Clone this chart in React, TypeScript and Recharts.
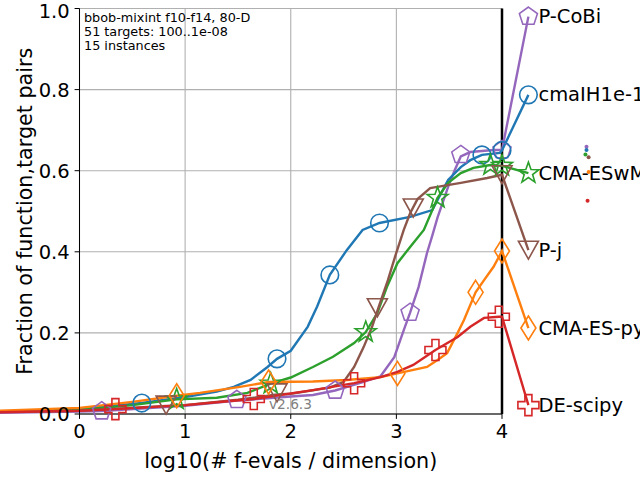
import React from 'react'
import { ComposedChart, Line, Scatter, XAxis, YAxis, CartesianGrid, ReferenceLine } from 'recharts'

type Pt = [number, number]

// curves, [log10(evals/dim), fraction]
const cmaIH1e1: Pt[] = [
  [-0.8, 0.006], [0, 0.012], [0.59, 0.027], [1.0, 0.042], [1.3, 0.055], [1.46, 0.067], [1.62, 0.084],
  [1.78, 0.116], [1.87, 0.136], [2.0, 0.156], [2.16, 0.215], [2.25, 0.265], [2.37, 0.343], [2.53, 0.404],
  [2.68, 0.454], [2.84, 0.471], [3.13, 0.486], [3.34, 0.503], [3.49, 0.577], [3.61, 0.609], [3.7, 0.626],
  [3.81, 0.639], [3.98, 0.644], [4.0, 0.65], [4.25, 0.787],
]
const cmaESwM: Pt[] = [
  [-0.8, 0.005], [0, 0.01], [0.5, 0.022], [0.92, 0.036], [1.3, 0.04], [1.59, 0.052], [1.81, 0.075],
  [2.0, 0.09], [2.21, 0.116], [2.4, 0.141], [2.6, 0.175], [2.71, 0.202], [2.82, 0.249], [2.91, 0.313],
  [3.01, 0.372], [3.13, 0.412], [3.26, 0.454], [3.39, 0.533], [3.49, 0.57], [3.61, 0.594], [3.73, 0.607],
  [3.89, 0.614], [4.0, 0.612], [4.25, 0.594],
]
const cmaESpy: Pt[] = [
  [-0.8, 0.008], [0, 0.015], [0.5, 0.03], [0.92, 0.045], [1.14, 0.052], [1.52, 0.067], [1.79, 0.079],
  [2.21, 0.08], [2.53, 0.084], [2.85, 0.091], [3.01, 0.1], [3.29, 0.116], [3.39, 0.133], [3.48, 0.15],
  [3.58, 0.2], [3.64, 0.232], [3.75, 0.3], [3.83, 0.33], [3.92, 0.363], [3.98, 0.392], [4.0, 0.402],
  [4.25, 0.212],
]
const pJ: Pt[] = [
  [-0.8, 0.005], [0, 0.008], [0.82, 0.02], [1.0, 0.022], [1.5, 0.035], [1.87, 0.048], [2.0, 0.05],
  [2.37, 0.065], [2.5, 0.079], [2.6, 0.116], [2.69, 0.165], [2.77, 0.215], [2.84, 0.27], [2.92, 0.33],
  [2.99, 0.39], [3.07, 0.454], [3.13, 0.495], [3.2, 0.53], [3.32, 0.557], [3.61, 0.57], [3.86, 0.582],
  [4.0, 0.59], [4.25, 0.404],
]
const pCoBi: Pt[] = [
  [-0.8, 0.003], [0, 0.006], [0.21, 0.007], [1.0, 0.02], [1.49, 0.033], [2.0, 0.043], [2.21, 0.047],
  [2.42, 0.058], [2.69, 0.079], [2.85, 0.093], [2.98, 0.14], [3.07, 0.207], [3.13, 0.25], [3.21, 0.313],
  [3.29, 0.397], [3.34, 0.44], [3.39, 0.485], [3.49, 0.56], [3.55, 0.6], [3.61, 0.635], [3.7, 0.646],
  [3.92, 0.651], [4.0, 0.651], [4.25, 0.98],
]
const deScipy: Pt[] = [
  [-0.8, 0.004], [0, 0.008], [0.34, 0.012], [1.0, 0.022], [1.43, 0.032], [1.65, 0.037], [2.21, 0.059],
  [2.6, 0.076], [2.85, 0.091], [3.01, 0.104], [3.16, 0.121], [3.37, 0.158], [3.58, 0.19], [3.7, 0.215],
  [3.83, 0.237], [3.97, 0.24], [4.0, 0.24], [4.25, 0.022],
]

// marker positions along each curve (last one sits next to the name)
const cmaIH1e1Marks: Pt[] = [[0.59, 0.027], [1.87, 0.136], [2.37, 0.343], [2.84, 0.471], [3.81, 0.639], [4.0, 0.65], [4.25, 0.787]]
const cmaESwMMarks: Pt[] = [[0.92, 0.036], [1.81, 0.075], [2.71, 0.202], [3.39, 0.533], [3.89, 0.614], [4.0, 0.612], [4.25, 0.594]]
const cmaESpyMarks: Pt[] = [[0.92, 0.045], [1.79, 0.079], [3.01, 0.1], [3.75, 0.3], [4.0, 0.402], [4.25, 0.212]]
const pJMarks: Pt[] = [[0.82, 0.022], [1.87, 0.052], [2.82, 0.262], [3.16, 0.508], [4.0, 0.59], [4.25, 0.404]]
const pCoBiMarks: Pt[] = [[0.21, 0.007], [1.49, 0.035], [2.42, 0.058], [3.13, 0.25], [3.61, 0.639], [4.0, 0.651], [4.25, 0.98]]
const deScipyMarks: Pt[] = [[0.34, 0.012], [1.65, 0.037], [2.6, 0.076], [3.37, 0.158], [3.97, 0.24], [4.25, 0.022]]

// tiny dots right of the names
const strayDots = [
  { x: 4.8, y: 0.659, c: '#9467bd' },
  { x: 4.8, y: 0.651, c: '#1f77b4' },
  { x: 4.79, y: 0.64, c: '#2ca02c' },
  { x: 4.82, y: 0.633, c: '#8c564b' },
  { x: 4.82, y: 0.597, c: '#ff7f0e' },
  { x: 4.81, y: 0.526, c: '#d62728' },
]

const MAJOR_X = [0, 1, 2, 3, 4]
const MINOR_X = [0, 1, 2, 3].flatMap(n => [2, 3, 4, 5, 6, 7, 8, 9].map(k => n + Math.log10(k)))
const MAJOR_Y = [0, 0.2, 0.4, 0.6, 0.8, 1.0]
const MINOR_Y = [0.05, 0.1, 0.15, 0.25, 0.3, 0.35, 0.45, 0.5, 0.55, 0.65, 0.7, 0.75, 0.85, 0.9, 0.95]

type Kind = 'circle' | 'pentagon' | 'star' | 'tri' | 'diamond' | 'plus'

const SERIES: { name: string; color: string; kind: Kind; curve: Pt[]; marks: Pt[] }[] = [
  { name: 'P-CoBi', color: '#9467bd', kind: 'pentagon', curve: pCoBi, marks: pCoBiMarks },
  { name: 'cmaIH1e-1', color: '#1f77b4', kind: 'circle', curve: cmaIH1e1, marks: cmaIH1e1Marks },
  { name: 'CMA-ESwM', color: '#2ca02c', kind: 'star', curve: cmaESwM, marks: cmaESwMMarks },
  { name: 'P-j', color: '#8c564b', kind: 'tri', curve: pJ, marks: pJMarks },
  { name: 'CMA-ES-py', color: '#ff7f0e', kind: 'diamond', curve: cmaESpy, marks: cmaESpyMarks },
  { name: 'DE-scipy', color: '#d62728', kind: 'plus', curve: deScipy, marks: deScipyMarks },
]

const toRows = (pts: Pt[]) => pts.map(([x, y]) => ({ x, y }))

function Marker({ kind, cx, cy, color }: { kind: Kind; cx: number; cy: number; color: string }) {
  const st = { fill: 'none', stroke: color, strokeWidth: 1.6 }
  if (kind === 'circle') return <circle cx={cx} cy={cy} r={8.8} {...st} />
  let pts: number[][] = []
  if (kind === 'pentagon') {
    for (let i = 0; i < 5; i++) {
      const a = -Math.PI / 2 + (i * 2 * Math.PI) / 5
      pts.push([cx + 9.5 * Math.cos(a), cy + 9.5 * Math.sin(a)])
    }
  } else if (kind === 'star') {
    for (let i = 0; i < 10; i++) {
      const a = -Math.PI / 2 + (i * Math.PI) / 5
      const r = i % 2 === 0 ? 11 : 4.4
      pts.push([cx + r * Math.cos(a), cy + r * Math.sin(a)])
    }
  } else if (kind === 'tri') {
    pts = [[cx, cy + 9], [cx - 10, cy - 9], [cx + 10, cy - 9]]
  } else if (kind === 'diamond') {
    pts = [[cx, cy - 12], [cx + 7.5, cy], [cx, cy + 12], [cx - 7.5, cy]]
  } else {
    const w = 3.5, L = 10.5
    pts = [
      [cx - w, cy - L], [cx + w, cy - L], [cx + w, cy - w], [cx + L, cy - w], [cx + L, cy + w], [cx + w, cy + w],
      [cx + w, cy + L], [cx - w, cy + L], [cx - w, cy + w], [cx - L, cy + w], [cx - L, cy - w], [cx - w, cy - w],
    ]
  }
  return <polygon points={pts.map(p => p.join(',')).join(' ')} {...st} />
}

const FONT = "'DejaVu Sans', sans-serif"

export default function App() {
  const ax = { xAxisId: 'main', yAxisId: 'main' }
  return (
    <div style={{ position: 'relative', width: 640, height: 480, fontFamily: FONT }}>
      <style>{`body{margin:0} svg [clip-path]{clip-path:none !important} .recharts-wrapper text{font-family:${FONT}}`}</style>
      <ComposedChart width={640} height={480} margin={{ top: 8.5, right: 138, bottom: 0, left: 0 }}>
        <CartesianGrid xAxisId="minor" yAxisId="minor" stroke="#ebebeb" strokeWidth={1.1} />
        <CartesianGrid xAxisId="main" yAxisId="main" stroke="#b0b0b0" strokeWidth={1.1} />

        <XAxis xAxisId="minor" type="number" domain={[0, 4]} allowDataOverflow ticks={MINOR_X} height={0}
          tick={false} tickSize={2.8} axisLine={false} stroke="#000" />
        <XAxis xAxisId="main" type="number" dataKey="x" domain={[0, 4]} allowDataOverflow ticks={MAJOR_X}
          height={66} tickSize={4.9} tickMargin={4.9} stroke="#000"
          tick={{ fontSize: 19.5, fill: '#000' }}
          label={{ value: 'log10(# f-evals / dimension)', position: 'insideBottom', offset: 12, fontSize: 20.7, fill: '#000' }} />
        <XAxis xAxisId="topMinor" orientation="top" type="number" domain={[0, 4]} allowDataOverflow ticks={MINOR_X}
          height={0} tick={false} tickSize={2.8} axisLine={false} stroke="#000" />
        <XAxis xAxisId="topMajor" orientation="top" type="number" domain={[0, 4]} allowDataOverflow ticks={MAJOR_X}
          height={0} tick={false} tickSize={4.9} stroke="#000" />

        <YAxis yAxisId="minor" type="number" domain={[0, 1]} allowDataOverflow ticks={MINOR_Y} width={0}
          tick={false} tickSize={2.8} axisLine={false} stroke="#000" />
        <YAxis yAxisId="main" type="number" dataKey="y" domain={[0, 1]} allowDataOverflow ticks={MAJOR_Y}
          width={79.5} tickSize={4.9} tickMargin={4.9} stroke="#000"
          tick={{ fontSize: 19.5, fill: '#000' }} tickFormatter={(v: number) => v.toFixed(1)}
          label={{ value: 'Fraction of function,target pairs', angle: -90, position: 'insideLeft', offset: 25,
            fontSize: 20.7, fill: '#000', style: { textAnchor: 'middle' } }} />
        <YAxis yAxisId="rightMinor" orientation="right" type="number" domain={[0, 1]} allowDataOverflow ticks={MINOR_Y}
          width={0} tick={false} tickSize={2.8} axisLine={false} stroke="#000" />
        <YAxis yAxisId="rightMajor" orientation="right" type="number" domain={[0, 1]} allowDataOverflow ticks={MAJOR_Y}
          width={0} tick={false} tickSize={4.9} stroke="#000" />

        <ReferenceLine {...ax} x={4} stroke="#000" strokeWidth={2.5} />

        {SERIES.map(s => (
          <Line key={s.name} {...ax} data={toRows(s.curve)} dataKey="y" type="linear" stroke={s.color}
            strokeWidth={2.4} dot={false} activeDot={false} isAnimationActive={false} />
        ))}
        {SERIES.map(s => (
          <Scatter key={s.name + '-m'} {...ax} data={toRows(s.marks)} isAnimationActive={false}
            shape={(p: any) => <Marker kind={s.kind} cx={p.cx} cy={p.cy} color={s.color} />} />
        ))}
        <Scatter {...ax} isAnimationActive={false}
          data={SERIES.map(s => ({ x: s.marks[s.marks.length - 1][0], y: s.marks[s.marks.length - 1][1], name: s.name }))}
          shape={(p: any) => (
            <text x={p.cx + 10} y={p.cy} dominantBaseline="central" fontSize={19.5} fill="#000" fontFamily={FONT}>
              {p.payload.name}
            </text>
          )} />
        <Scatter {...ax} data={strayDots} isAnimationActive={false}
          shape={(p: any) => <circle cx={p.cx} cy={p.cy} r={2} fill={p.payload.c} />} />
      </ComposedChart>

      <div style={{ position: 'absolute', left: 84, top: 11.3, fontSize: 12.8, lineHeight: '14px', color: '#000' }}>
        <div>bbob-mixint f10-f14, 80-D</div>
        <div>51 targets: 100..1e-08</div>
        <div>15 instances</div>
      </div>
      <div style={{ position: 'absolute', left: 269, top: 396, fontSize: 13.7, lineHeight: '16px', color: '#808080' }}>
        v2.6.3
      </div>
    </div>
  )
}
